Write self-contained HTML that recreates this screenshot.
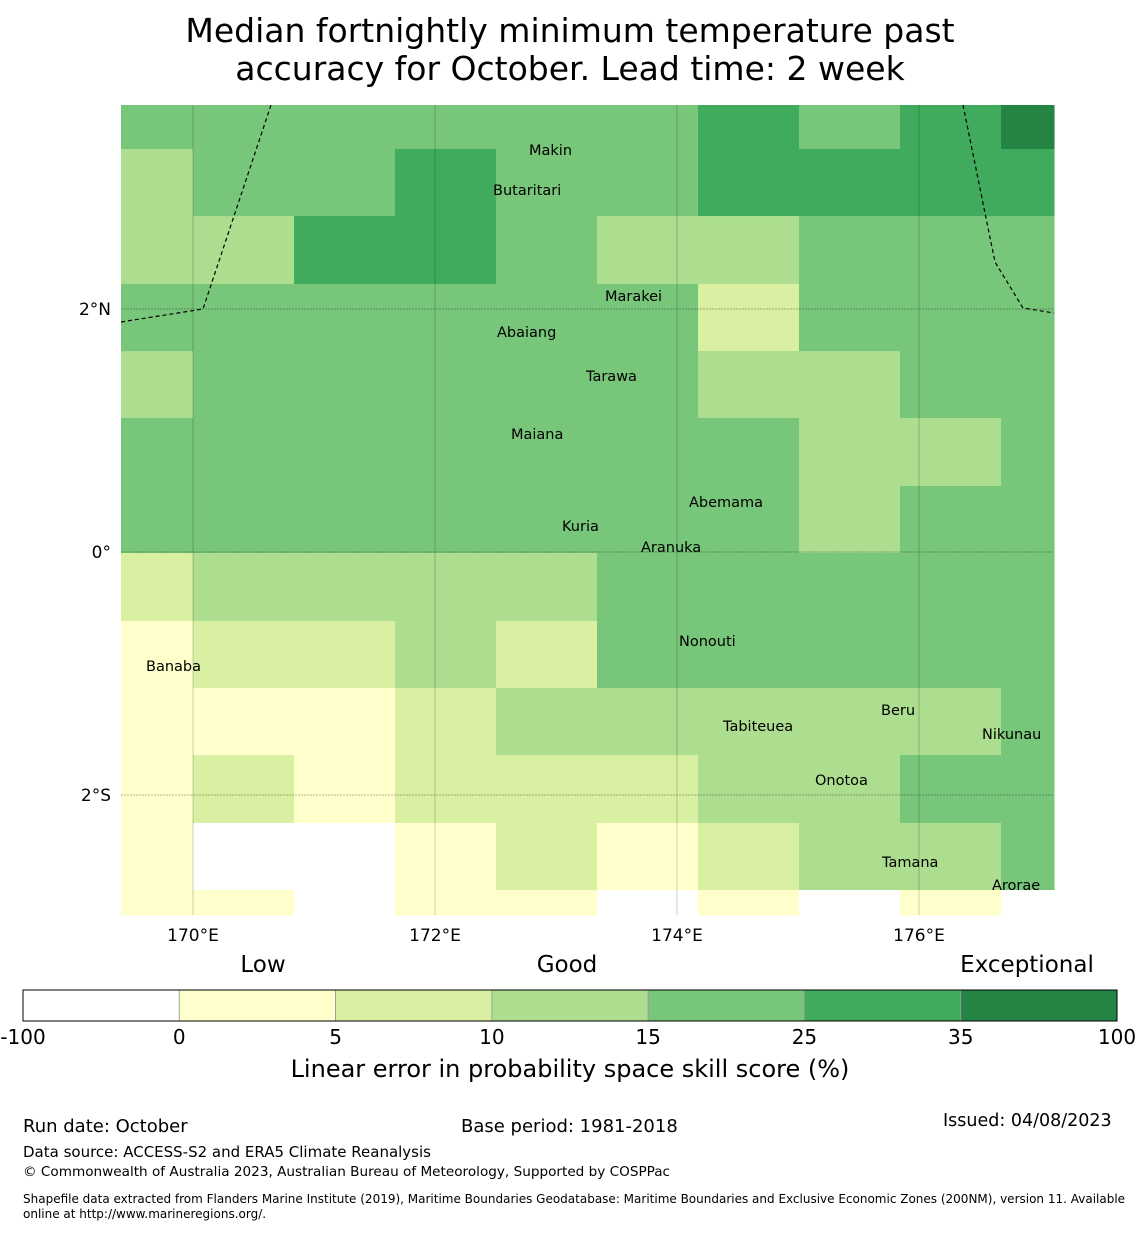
<!DOCTYPE html>
<html><head><meta charset="utf-8"><style>
body{margin:0;background:#fff;font-family:"Liberation Sans","DejaVu Sans",sans-serif}
svg text{font-family:"DejaVu Sans","Liberation Sans",sans-serif}
</style></head><body>
<svg id="c" width="1140" height="1230" viewBox="0 0 1140 1230" xmlns="http://www.w3.org/2000/svg">
<text x="570" y="42" font-size="33" text-anchor="middle">Median fortnightly minimum temperature past</text>
<text x="570" y="80" font-size="33" text-anchor="middle">accuracy for October. Lead time: 2 week</text>
<g id="cells"></g>
<g id="grid"></g>
<g fill="none" stroke="#000" stroke-width="1.2" stroke-dasharray="4,3">
<polyline points="121,322 203,309 271,105"/>
<polyline points="963,105 995,262 1023,308 1054,313"/>
</g>
<g id="isl" font-size="14.5"></g>
<g id="ticks" font-size="17"></g>
<g font-size="23">
<text x="263" y="972" text-anchor="middle">Low</text>
<text x="567" y="972" text-anchor="middle">Good</text>
<text x="1027" y="972" text-anchor="middle">Exceptional</text>
</g>
<g id="cbar"></g>
<text x="570" y="1077" font-size="24" text-anchor="middle">Linear error in probability space skill score (%)</text>
<g font-size="18">
<text x="23" y="1132">Run date: October</text>
<text x="461" y="1132">Base period: 1981-2018</text>
<text x="943" y="1126" font-size="17.5">Issued: 04/08/2023</text>
<text x="23" y="1157" font-size="15">Data source: ACCESS-S2 and ERA5 Climate Reanalysis</text>
<text x="23" y="1176" font-size="13.6">© Commonwealth of Australia 2023, Australian Bureau of Meteorology, Supported by COSPPac</text>
<text x="23" y="1203" font-size="12">Shapefile data extracted from Flanders Marine Institute (2019), Maritime Boundaries Geodatabase: Maritime Boundaries and Exclusive Economic Zones (200NM), version 11. Available</text>
<text x="23" y="1218" font-size="12">online at http://www.marineregions.org/.</text>
</g>
</svg>
<script>
const lonEdges=[169.405,170,170.835,171.669,172.504,173.339,174.174,175.008,175.843,176.678,177.116];
const latEdges=[3.679,3.317,2.765,2.206,1.654,1.103,0.543,-0.008,-0.568,-1.119,-1.671,-2.230,-2.782,-2.988];
const skill=[
[20,20,20,20,20,20,30,20,30,40],
[12,20,20,30,20,20,30,30,30,30],
[12,12,30,30,20,12,12,20,20,20],
[20,20,20,20,20,20,7,20,20,20],
[12,20,20,20,20,20,12,12,20,20],
[20,20,20,20,20,20,20,12,12,20],
[20,20,20,20,20,20,20,12,20,20],
[7,12,12,12,12,20,20,20,20,20],
[2,7,7,12,7,20,20,20,20,20],
[2,2,2,7,12,12,12,12,12,20],
[2,7,2,7,7,7,12,12,20,20],
[2,-5,-5,2,7,2,7,12,12,20],
[2,2,-5,2,2,-5,2,-5,2,-5]];
const bounds=[-100,0,5,10,15,25,35,100];
const colors=["#ffffff","#ffffcc","#d9f0a3","#addd8e","#78c679","#41ab5d","#238443"];
const lonTicks=[170,172,174,176];
const latTicks=[2,0,-2];
const latTickLabels=["2°N","0°","2°S"];
const islands=[["Makin",529,150],["Butaritari",493,190],["Marakei",605,296],["Abaiang",497,332],["Tarawa",586,376],["Maiana",511,434],["Abemama",689,502],["Kuria",562,526],["Aranuka",641,547],["Nonouti",679,641],["Banaba",146,666],["Tabiteuea",723,726],["Beru",881,710],["Nikunau",982,734],["Onotoa",815,780],["Tamana",882,862],["Arorae",992,885]];
const NS="http://www.w3.org/2000/svg";
const X=lon=>193+(lon-170)*121;
const Y=lat=>552-lat*121.5;
function mk(t,a,p){const e=document.createElementNS(NS,t);for(const k in a)e.setAttribute(k,a[k]);p.appendChild(e);return e;}
function col(v){for(let i=0;i<colors.length;i++)if(v<bounds[i+1])return colors[i];return colors[colors.length-1];}
const cells=document.getElementById('cells');
skill.forEach((row,r)=>row.forEach((v,c)=>{
 const x0=X(lonEdges[c]),x1=X(lonEdges[c+1]),y0=Y(latEdges[r]),y1=Y(latEdges[r+1]);
 const e=mk('rect',{x:x0,y:y0,width:x1-x0+0.5,height:y1-y0+0.5,fill:col(v)},cells);
 
 
}));
const g=document.getElementById('grid'),tk=document.getElementById('ticks');
lonTicks.forEach(l=>{
 const e=mk('line',{x1:X(l),x2:X(l),y1:105,y2:915,stroke:'#000','stroke-opacity':0.25,'stroke-width':0.8},g);
 
 
 const t=mk('text',{x:X(l),y:941,'text-anchor':'middle'},tk);t.textContent=l+'°E';
 
 
});
latTicks.forEach((l,i)=>{
 const e=mk('line',{x1:121,x2:1054,y1:Y(l),y2:Y(l),stroke:'#000','stroke-opacity':0.4,'stroke-width':0.8,'stroke-dasharray':'2,1'},g);
 
 
 const t=mk('text',{x:111,y:Y(l)+6,'text-anchor':'end'},tk);t.textContent=latTickLabels[i];
 
 
});
const isl=document.getElementById('isl');
islands.forEach(d=>{const t=mk('text',{x:d[1],y:d[2]+5},isl);t.textContent=d[0];
 
 });
const cb=document.getElementById('cbar');const w=(1117-23)/colors.length;
colors.forEach((c,i)=>{const e=mk('rect',{x:23+i*w,y:990,width:w,height:31,fill:c,stroke:'#999','stroke-width':0.8},cb);
 
 });
mk('rect',{x:23,y:990,width:1094,height:31,fill:'none',stroke:'#000','stroke-width':1},cb);
bounds.forEach((b,i)=>{const t=mk('text',{x:23+i*w,y:1044,'font-size':20,'text-anchor':'middle'},cb);t.textContent=b;
 
 });
</script>
</body></html>
